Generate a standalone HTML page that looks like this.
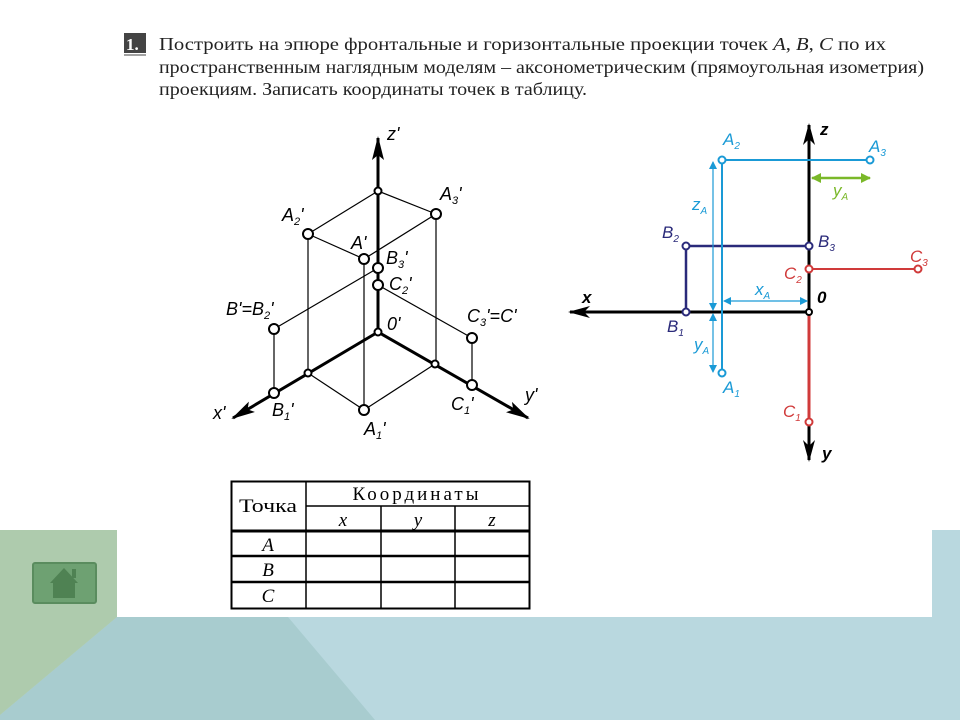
<!DOCTYPE html>
<html><head><meta charset="utf-8"><style>
html,body{margin:0;padding:0;background:#fff;}
svg{display:block;}
</style></head><body>
<svg width="960" height="720" viewBox="0 0 960 720" xmlns="http://www.w3.org/2000/svg">
<defs>
<marker id="ab" markerWidth="24" markerHeight="12" refX="22" refY="6" orient="auto" markerUnits="userSpaceOnUse"><path d="M0,0 L24,6 L0,12 L5,6z" fill="#000"/></marker>
<marker id="abk" markerWidth="22" markerHeight="12" refX="20" refY="6" orient="auto" markerUnits="userSpaceOnUse"><path d="M0,0 L22,6 L0,12 L6,6z" fill="#000"/></marker>
<marker id="bl" markerWidth="8" markerHeight="8" refX="7" refY="4" orient="auto" markerUnits="userSpaceOnUse"><path d="M0,0 L8,4 L0,8z" fill="#1a9ad6"/></marker>
<marker id="gr" markerWidth="10" markerHeight="10" refX="9" refY="5" orient="auto" markerUnits="userSpaceOnUse"><path d="M0,0 L10,5 L0,10z" fill="#7ab829"/></marker>
</defs>
<rect width="960" height="720" fill="#fff"/>
<rect x="0" y="530" width="117" height="190" fill="#aecbad"/>
<rect x="932" y="530" width="28" height="190" fill="#b9d8df"/>
<rect x="0" y="617" width="960" height="103" fill="#b9d8df"/>
<polygon points="117,617 288,617 375,720 0,720 0,715" fill="#a8cccf"/>
<polygon points="0,617 117,617 0,715" fill="#aecbad"/>
<rect x="33" y="563" width="63" height="40" fill="#6ea172" stroke="#5a8c5e" stroke-width="2" rx="2"/>
<polygon points="64,568 50,583 78,583" fill="#4f8253"/>
<rect x="72" y="569" width="4" height="9" fill="#4f8253"/>
<rect x="53" y="582" width="22" height="16" fill="#4f8253"/>

<rect x="124" y="33" width="22" height="20" fill="#444"/>
<text x="126" y="50" font-family="Liberation Serif,serif" font-weight="bold" font-size="17" fill="#fff">1.</text>
<line x1="124" y1="55" x2="146" y2="55" stroke="#444" stroke-width="1"/>
<g font-family="Liberation Serif,serif" font-size="18" fill="#222">
<text x="159" y="50" textLength="727" lengthAdjust="spacingAndGlyphs">Построить на эпюре фронтальные и горизонтальные проекции точек <tspan font-style="italic">A</tspan>, <tspan font-style="italic">B</tspan>, <tspan font-style="italic">C</tspan> по их</text>
<text x="159" y="73" textLength="765" lengthAdjust="spacingAndGlyphs">пространственным наглядным моделям – аксонометрическим (прямоугольная изометрия)</text>
<text x="159" y="95" textLength="428" lengthAdjust="spacingAndGlyphs">проекциям. Записать координаты точек в таблицу.</text>
</g>

<g stroke="#000" fill="none" stroke-width="1.2">
<line x1="378" y1="191" x2="308" y2="234"/>
<line x1="378" y1="191" x2="436" y2="214"/>
<line x1="308" y1="234" x2="364" y2="259"/>
<line x1="436" y1="214" x2="364" y2="259"/>
<line x1="378" y1="268" x2="274" y2="329"/>
<line x1="378" y1="285" x2="472" y2="338"/>
<line x1="308" y1="234" x2="308" y2="373"/>
<line x1="364" y1="259" x2="364" y2="410"/>
<line x1="436" y1="214" x2="436" y2="364"/>
<line x1="274" y1="329" x2="274" y2="393"/>
<line x1="472" y1="338" x2="472" y2="385"/>
<line x1="308" y1="373" x2="364" y2="410"/>
<line x1="435" y1="364" x2="364" y2="410"/>
</g>
<g stroke="#000" stroke-width="3" fill="none">
<line x1="378" y1="332" x2="378" y2="138" marker-end="url(#ab)"/>
<line x1="378" y1="332" x2="233" y2="418" marker-end="url(#ab)"/>
<line x1="378" y1="332" x2="528" y2="418" marker-end="url(#ab)"/>
</g>
<g stroke="#000" stroke-width="2" fill="#fff">
<circle cx="378" cy="191" r="3.5"/><circle cx="378" cy="332" r="3.5"/>
<circle cx="308" cy="373" r="3.5"/><circle cx="435" cy="364" r="3.5"/>
<circle cx="308" cy="234" r="5"/><circle cx="436" cy="214" r="5"/>
<circle cx="364" cy="259" r="5"/><circle cx="378" cy="268" r="5"/>
<circle cx="378" cy="285" r="5"/><circle cx="274" cy="329" r="5"/>
<circle cx="472" cy="338" r="5"/><circle cx="274" cy="393" r="5"/>
<circle cx="472" cy="385" r="5"/><circle cx="364" cy="410" r="5"/>
</g>
<g font-family="Liberation Sans,sans-serif" font-style="italic" font-size="18" fill="#000">
<text x="387" y="140">z'</text>
<text x="282" y="221">A<tspan font-size="11" dy="4">2</tspan><tspan dy="-4">'</tspan></text>
<text x="440" y="200">A<tspan font-size="11" dy="4">3</tspan><tspan dy="-4">'</tspan></text>
<text x="351" y="249">A'</text>
<text x="386" y="264">B<tspan font-size="11" dy="4">3</tspan><tspan dy="-4">'</tspan></text>
<text x="389" y="290">C<tspan font-size="11" dy="4">2</tspan><tspan dy="-4">'</tspan></text>
<text x="226" y="315">B'=B<tspan font-size="11" dy="4">2</tspan><tspan dy="-4">'</tspan></text>
<text x="467" y="322">C<tspan font-size="11" dy="4">3</tspan><tspan dy="-4">'=C'</tspan></text>
<text x="387" y="330">0'</text>
<text x="213" y="419">x'</text>
<text x="272" y="416">B<tspan font-size="11" dy="4">1</tspan><tspan dy="-4">'</tspan></text>
<text x="451" y="410">C<tspan font-size="11" dy="4">1</tspan><tspan dy="-4">'</tspan></text>
<text x="525" y="401">y'</text>
<text x="364" y="435">A<tspan font-size="11" dy="4">1</tspan><tspan dy="-4">'</tspan></text>
</g>

<g fill="none">
<line x1="809" y1="312" x2="809" y2="125" stroke="#000" stroke-width="3" marker-end="url(#abk)"/>
<line x1="809" y1="312" x2="570" y2="312" stroke="#000" stroke-width="3" marker-end="url(#abk)"/>
<line x1="809" y1="312" x2="809" y2="460" stroke="#000" stroke-width="3" marker-end="url(#abk)"/>
<line x1="809" y1="312" x2="809" y2="422" stroke="#d03a3a" stroke-width="3"/>
<line x1="809" y1="269" x2="918" y2="269" stroke="#d03a3a" stroke-width="2"/>
<polyline points="809,246 686,246 686,312" stroke="#2a2a7a" stroke-width="2.5"/>
<polyline points="870,160 722,160 722,373" stroke="#1a9ad6" stroke-width="2"/>
<line x1="713" y1="234" x2="713" y2="162" stroke="#1a9ad6" stroke-width="1.2" marker-end="url(#bl)"/>
<line x1="713" y1="234" x2="713" y2="310" stroke="#1a9ad6" stroke-width="1.2" marker-end="url(#bl)"/>
<line x1="713" y1="342" x2="713" y2="314" stroke="#1a9ad6" stroke-width="1.2" marker-end="url(#bl)"/>
<line x1="713" y1="342" x2="713" y2="372" stroke="#1a9ad6" stroke-width="1.2" marker-end="url(#bl)"/>
<line x1="765" y1="301" x2="724" y2="301" stroke="#1a9ad6" stroke-width="1.2" marker-end="url(#bl)"/>
<line x1="765" y1="301" x2="807" y2="301" stroke="#1a9ad6" stroke-width="1.2" marker-end="url(#bl)"/>
<line x1="840" y1="178" x2="812" y2="178" stroke="#7ab829" stroke-width="2.5" marker-end="url(#gr)"/>
<line x1="840" y1="178" x2="870" y2="178" stroke="#7ab829" stroke-width="2.5" marker-end="url(#gr)"/>
</g>
<g fill="#fff" stroke-width="2">
<circle cx="722" cy="160" r="3.5" stroke="#1a9ad6"/><circle cx="870" cy="160" r="3.5" stroke="#1a9ad6"/>
<circle cx="722" cy="373" r="3.5" stroke="#1a9ad6"/>
<circle cx="686" cy="246" r="3.5" stroke="#2a2a7a"/><circle cx="809" cy="246" r="3.5" stroke="#2a2a7a"/>
<circle cx="686" cy="312" r="3.5" stroke="#2a2a7a"/>
<circle cx="809" cy="269" r="3.5" stroke="#d03a3a"/><circle cx="918" cy="269" r="3.5" stroke="#d03a3a"/>
<circle cx="809" cy="422" r="3.5" stroke="#d03a3a"/>
<circle cx="809" cy="312" r="3" stroke="#000"/>
</g>
<g font-family="Liberation Sans,sans-serif" font-style="italic" font-size="17">
<text x="820" y="135" fill="#000" font-weight="bold">z</text>
<text x="822" y="459" fill="#000" font-weight="bold">y</text>
<text x="582" y="303" fill="#000" font-weight="bold">x</text>
<text x="817" y="303" fill="#000" font-weight="bold">0</text>
<g fill="#1a9ad6">
<text x="723" y="145">A<tspan font-size="10" dy="4">2</tspan></text>
<text x="869" y="152">A<tspan font-size="10" dy="4">3</tspan></text>
<text x="723" y="393">A<tspan font-size="10" dy="4">1</tspan></text>
<text x="692" y="210">z<tspan font-size="10" dy="4">A</tspan></text>
<text x="694" y="350">y<tspan font-size="10" dy="4">A</tspan></text>
<text x="755" y="295">x<tspan font-size="10" dy="4">A</tspan></text>
</g>
<text x="833" y="196" fill="#7ab829">y<tspan font-size="10" dy="4">A</tspan></text>
<g fill="#2a2a7a">
<text x="662" y="238">B<tspan font-size="10" dy="4">2</tspan></text>
<text x="818" y="247">B<tspan font-size="10" dy="4">3</tspan></text>
<text x="667" y="332">B<tspan font-size="10" dy="4">1</tspan></text>
</g>
<g fill="#d03a3a">
<text x="784" y="279">C<tspan font-size="10" dy="4">2</tspan></text>
<text x="910" y="262">C<tspan font-size="10" dy="4">3</tspan></text>
<text x="783" y="417">C<tspan font-size="10" dy="4">1</tspan></text>
</g>
</g>

<g stroke="#000" fill="none">
<rect x="231.5" y="481.5" width="298" height="127" stroke-width="2"/>
<line x1="306" y1="481" x2="306" y2="609" stroke-width="1.5"/>
<line x1="381" y1="506" x2="381" y2="609" stroke-width="1.5"/>
<line x1="455" y1="506" x2="455" y2="609" stroke-width="1.5"/>
<line x1="306" y1="506" x2="529" y2="506" stroke-width="1.5"/>
<line x1="231" y1="531" x2="529" y2="531" stroke-width="3"/>
<line x1="231" y1="556" x2="529" y2="556" stroke-width="2.5"/>
<line x1="231" y1="582" x2="529" y2="582" stroke-width="2.5"/>
</g>
<g font-family="Liberation Serif,serif" font-size="19" fill="#000" text-anchor="middle">
<text x="268" y="512" textLength="58" lengthAdjust="spacingAndGlyphs">Точка</text>
<text x="417" y="500" letter-spacing="3">Координаты</text>
<text x="343" y="526" font-style="italic">x</text>
<text x="418" y="526" font-style="italic">y</text>
<text x="492" y="526" font-style="italic">z</text>
<text x="268" y="551" font-style="italic">A</text>
<text x="268" y="576" font-style="italic">B</text>
<text x="268" y="602" font-style="italic">C</text>
</g>
</svg>
</body></html>
